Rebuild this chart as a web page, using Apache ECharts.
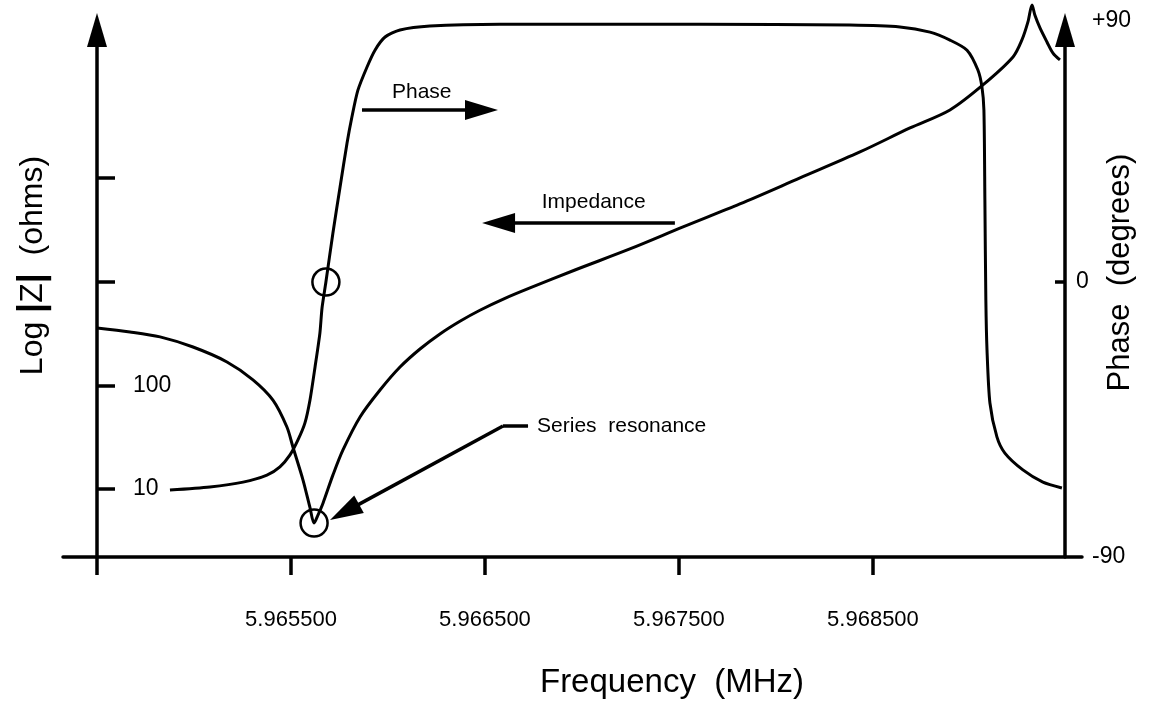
<!DOCTYPE html>
<html>
<head>
<meta charset="utf-8">
<script src="https://cdn.jsdelivr.net/npm/echarts@6/dist/echarts.min.js"></script>
<style>
  html, body { margin: 0; padding: 0; background: #fff; }
  #chart { width: 1150px; height: 711px; }
</style>
</head>
<body>
<div id="chart"></div>
<script>
// ---------------- data ----------------
// Impedance |Z| (ohms) versus frequency (MHz)
const impFreqMHz = [5.964500, 5.964670, 5.964825, 5.964995, 5.965170, 5.965304, 5.965407, 5.965479,
  5.965510, 5.965562, 5.965598, 5.965619, 5.965639, 5.965665, 5.965716, 5.965768, 5.965856, 5.965959,
  5.966062, 5.966165, 5.966268, 5.966371, 5.966474, 5.966603, 5.966732, 5.966964, 5.967247, 5.967521,
  5.967814, 5.968124, 5.968433, 5.968691, 5.968897, 5.969067, 5.969222, 5.969268, 5.969299, 5.969320,
  5.969335, 5.969361, 5.969397, 5.969428, 5.969464];
const impOhms = [357, 327, 293, 234, 168, 113, 72, 39.6,
  25.4, 12.2, 6.6, 4.7, 5.6, 7.3, 13.6, 23.8, 49.5, 90,
  150, 224, 313, 415, 530, 690, 870, 1295, 2065, 3367,
  5610, 10000, 17800, 30340, 45290, 78900, 146900, 214300, 319800, 466500,
  370000, 280000, 205000, 160000, 137500];

// Phase (degrees) versus frequency (MHz)
const phaseFreqMHz = [5.964876, 5.965082, 5.965253, 5.965376, 5.965443, 5.965495, 5.965536, 5.965572,
  5.965598, 5.965624, 5.965649, 5.965660, 5.965680, 5.965716, 5.965753, 5.965789, 5.965814, 5.965845,
  5.965892, 5.965933, 5.965985, 5.966062, 5.966216, 5.966577, 5.967608, 5.968381, 5.968639, 5.968794,
  5.968897, 5.968985, 5.969041, 5.969062, 5.969072, 5.969077, 5.969082, 5.969088, 5.969103, 5.969139,
  5.969180, 5.969273, 5.969376, 5.969474];
const phaseDeg = [-68.1, -67.1, -65.5, -63.2, -60.5, -56.6, -51.7, -46.1,
  -38.6, -27.8, -16.7, -8.5, 0, 16.0, 31.1, 45.5, 54.0, 62.8,
  70.4, 75.9, 80.2, 82.5, 83.8, 84.4, 84.4, 84.1, 83.5, 81.8,
  79.2, 75.9, 69.4, 63.8, 56.3, 26.8, -5.9, -22.3, -39.6, -50.7,
  -56.0, -61.5, -65.5, -67.4];

// Axis ticks / labels
const xTickValues = [5.9645, 5.9655, 5.9665, 5.9675, 5.9685];
const xLabelValues = [5.9655, 5.9665, 5.9675, 5.9685];
const zTickOhms = [10, 100, 1000, 10000];
const zLabelOhms = [10, 100];
const phaseTickValues = [0];
const phaseLabels = ['-90', '0', '+90'];
const seriesResonanceText = 'Series  resonance';

// ---------------- chart ----------------
const FONT = "'Liberation Sans', Arial, Helvetica, sans-serif";
const X_MIN = 5.9645, X_MAX = 5.96949;
const LZ_MIN = 0.344, LZ_MAX = 5.427;
const PH_MIN = -90, PH_MAX = 82.5;
const AX_W = 3.5;
const lg = Math.log10;

const impData = impFreqMHz.map((f, i) => [f, lg(impOhms[i])]);
const phaseData = phaseFreqMHz.map((f, i) => [f, phaseDeg[i]]);
const zeroIdx = phaseDeg.indexOf(0);

const txt = (size) => ({ color: '#000', fontFamily: FONT, fontSize: size });

const chart = echarts.init(document.getElementById('chart'), null, { renderer: 'canvas' });

const option = {
  animation: false,
  backgroundColor: '#fff',
  grid: [
    { left: 97, right: 85, top: 30, bottom: 154, containLabel: false, outerBoundsMode: 'none' },
    { left: 63, right: 68, top: 30, bottom: 154, containLabel: false, outerBoundsMode: 'none' }
  ],
  xAxis: [
    {
      gridIndex: 0, type: 'value', min: X_MIN, max: X_MAX,
      axisLine: { show: false, onZero: false },
      axisTick: { show: true, customValues: xTickValues, length: 18, lineStyle: { color: '#000', width: AX_W } },
      axisLabel: Object.assign({ customValues: xLabelValues, formatter: v => v.toFixed(6), margin: 52 }, txt(22)),
      splitLine: { show: false },
      name: 'Frequency  (MHz)', nameLocation: 'middle', nameGap: 109, nameMoveOverlap: false,
      nameTextStyle: Object.assign({ padding: [0, 0, 0, 182] }, txt(33))
    },
    {
      gridIndex: 1, type: 'value', min: 0, max: 1,
      axisLine: { show: true, onZero: false, lineStyle: { color: '#000', width: AX_W } },
      axisTick: { show: false }, axisLabel: { show: false }, splitLine: { show: false }
    }
  ],
  yAxis: [
    {
      gridIndex: 0, type: 'value', position: 'left', min: LZ_MIN, max: LZ_MAX,
      axisLine: { show: true, onZero: false, symbol: ['none', 'triangle'], symbolSize: [20, 34],
        lineStyle: { color: '#000', width: AX_W } },
      axisTick: { show: true, inside: true, customValues: zTickOhms.map(lg), length: 18,
        lineStyle: { color: '#000', width: AX_W } },
      axisLabel: Object.assign({ inside: true, customValues: zLabelOhms.map(lg), margin: 36,
        formatter: v => String(Math.round(Math.pow(10, v))) }, txt(23)),
      splitLine: { show: false },
      name: 'Log {b||}{z|Z}{b||}  (ohms)', nameLocation: 'middle', nameGap: 46, nameMoveOverlap: false,
      nameTextStyle: Object.assign({ padding: [0, 0, 0, 56],
        rich: { b: Object.assign({ fontWeight: 'bold' }, txt(36)), z: txt(32) } }, txt(32))
    },
    {
      gridIndex: 0, type: 'value', position: 'right', min: PH_MIN, max: PH_MAX,
      axisLine: { show: true, onZero: false, symbol: ['none', 'triangle'], symbolSize: [20, 34],
        lineStyle: { color: '#000', width: AX_W } },
      axisTick: { show: true, inside: true, customValues: phaseTickValues, length: 10,
        lineStyle: { color: '#000', width: AX_W } },
      axisLabel: Object.assign({
        customValues: [PH_MIN, 0, PH_MAX], margin: 11,
        formatter: v => v === 0 ? '{z|' + phaseLabels[1] + '}' : (v < 0 ? '{m|' + phaseLabels[0] + '}' : '{p|' + phaseLabels[2] + '}'),
        rich: {
          z: txt(23),
          m: Object.assign({ padding: [0, 0, 0, 16] }, txt(23)),
          p: Object.assign({ padding: [0, 0, 18, 16] }, txt(23))
        }
      }, txt(23)),
      splitLine: { show: false },
      name: 'Phase  (degrees)', nameLocation: 'middle', nameGap: 40, nameMoveOverlap: false,
      nameTextStyle: Object.assign({ padding: [0, 0, 0, 42] }, txt(31))
    },
    { gridIndex: 1, type: 'value', min: 0, max: 1, show: false }
  ],
  series: [
    {
      name: 'Impedance', type: 'line', xAxisIndex: 0, yAxisIndex: 0,
      data: impData, showSymbol: false, symbol: 'none', clip: false,
      smooth: 0.3,
      lineStyle: { color: '#000', width: 3 },
      markPoint: {
        silent: true, symbol: 'circle', symbolSize: 27,
        itemStyle: { color: 'rgba(0,0,0,0)', borderColor: '#000', borderWidth: 2.5 },
        label: { show: false },
        data: [{ type: 'min', valueDim: 'y' }]
      },
      markLine: {
        silent: true, animation: false,
        symbol: ['none', 'none'], symbolSize: [20, 33],
        lineStyle: { color: '#000', width: AX_W, type: 'solid' },
        emphasis: { disabled: true },
        data: [
          [
            { coord: [5.966570, 1 + 266 / 103.67], symbol: 'triangle', symbolSize: [20, 33],
              label: Object.assign({ show: true, formatter: 'Impedance', position: 'insideMiddleTop', distance: 10, padding: [0, 0, 0, 14] }, txt(21)) },
            { coord: [5.967479, 1 + 266 / 103.67], symbol: 'none' }
          ],
          [
            { coord: [5.965776, 0.777], symbol: 'triangle', symbolSize: [20, 33], label: { show: false } },
            { coord: [5.966593, 1.608], symbol: 'none' }
          ],
          [
            { coord: [5.966593, 1.608], symbol: 'none',
              label: Object.assign({ show: true, formatter: seriesResonanceText, position: 'end', distance: 9 }, txt(21)) },
            { coord: [5.966722, 1.608], symbol: 'none' }
          ]
        ]
      }
    },
    {
      name: 'Phase', type: 'line', xAxisIndex: 0, yAxisIndex: 1,
      data: phaseData, showSymbol: false, symbol: 'none', clip: false,
      smooth: 0.25,
      lineStyle: { color: '#000', width: 3 },
      markPoint: {
        silent: true, symbol: 'circle', symbolSize: 27,
        itemStyle: { color: 'rgba(0,0,0,0)', borderColor: '#000', borderWidth: 2.5 },
        label: { show: false },
        data: [{ coord: [phaseFreqMHz[zeroIdx], phaseDeg[zeroIdx]] }]
      },
      markLine: {
        silent: true, animation: false,
        symbol: ['none', 'triangle'], symbolSize: [20, 33],
        lineStyle: { color: '#000', width: AX_W, type: 'solid' },
        emphasis: { disabled: true },
        data: [
          [
            { coord: [5.965866, 56.3], symbol: 'none',
              label: Object.assign({ show: true, formatter: 'Phase', position: 'insideMiddleTop', distance: 7 }, txt(21)) },
            { coord: [5.966482, 56.3], symbol: 'triangle', symbolSize: [20, 33] }
          ]
        ]
      }
    }
  ]
};
chart.setOption(option);
</script>
</body>
</html>
